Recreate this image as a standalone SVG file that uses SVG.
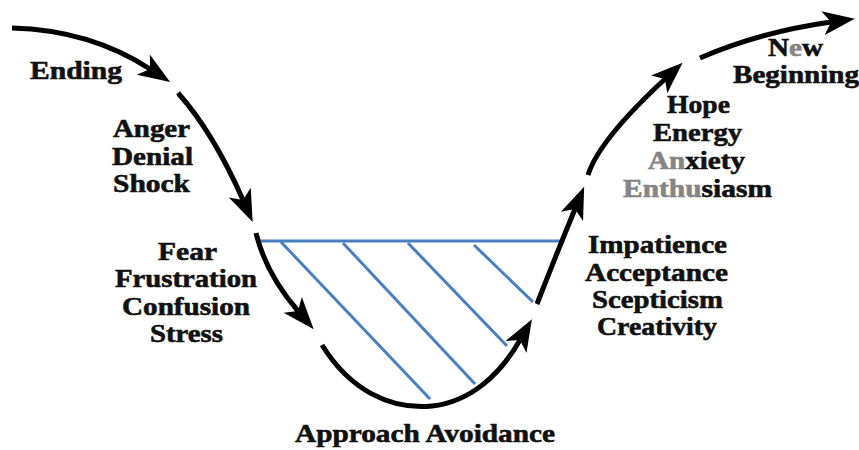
<svg xmlns="http://www.w3.org/2000/svg" width="859" height="450" viewBox="0 0 859 450">
<style>
.lbl{font-family:"Liberation Serif","Times New Roman",serif;font-weight:bold;font-size:25.5px;fill:#111;stroke:#111;stroke-width:0.6;text-anchor:middle}
.fade{fill:#858585;stroke:#858585}
.arr{fill:none;stroke:#000;stroke-width:5;stroke-linecap:butt}
.hatch{stroke:#4a7fc1;stroke-width:3;stroke-linecap:butt;fill:none}
</style>
<defs>
<marker id="ah" markerUnits="userSpaceOnUse" viewBox="0 -15 40 30" markerWidth="40" markerHeight="30" refX="8" refY="0" orient="auto" overflow="visible">
<path d="M32,0 L0,-12 L8,0 L0,12 Z" fill="#000"/>
</marker>
</defs>
<rect width="859" height="450" fill="#fff"/>
<g id="hatching">
<line class="hatch" x1="259" y1="241" x2="563" y2="241"/>
<line class="hatch" x1="281" y1="242" x2="430" y2="399"/>
<line class="hatch" x1="343" y1="243" x2="475" y2="384"/>
<line class="hatch" x1="408" y1="243" x2="507" y2="346"/>
<line class="hatch" x1="474" y1="245" x2="533" y2="302"/>
</g>
<g id="connectors">
<path class="arr" marker-end="url(#ah)" d="M12,28 Q90,30 150,69"/>
<path class="arr" marker-end="url(#ah)" d="M178,93 Q213,132 243,200"/>
<path class="arr" marker-end="url(#ah)" d="M256,233 Q266,274 298,311"/>
<path class="arr" marker-end="url(#ah)" d="M322,345 C350,390 390,410 432,406 C470,402 500,375 520,340"/>
<path class="arr" marker-end="url(#ah)" d="M537,304 Q556,255 575,209"/>
<path class="arr" marker-end="url(#ah)" d="M588,175 Q599,140 665,79"/>
<path class="arr" marker-end="url(#ah)" d="M700,58 Q760,32 831,22"/>
</g>
<g id="ending">
<text class="lbl" x="76" y="79" textLength="92" lengthAdjust="spacingAndGlyphs">Ending</text>
</g>
<g id="anger-denial-shock">
<text class="lbl" x="151.5" y="137" textLength="77" lengthAdjust="spacingAndGlyphs">Anger</text>
<text class="lbl" x="152.5" y="164.5" textLength="81" lengthAdjust="spacingAndGlyphs">Denial</text>
<text class="lbl" x="151.5" y="192" textLength="77" lengthAdjust="spacingAndGlyphs">Shock</text>
</g>
<g id="fear-stress">
<text class="lbl" x="187.5" y="260" textLength="59" lengthAdjust="spacingAndGlyphs">Fear</text>
<text class="lbl" x="186" y="287" textLength="142" lengthAdjust="spacingAndGlyphs">Frustration</text>
<text class="lbl" x="186" y="314.5" textLength="128" lengthAdjust="spacingAndGlyphs">Confusion</text>
<text class="lbl" x="186.5" y="341.5" textLength="73" lengthAdjust="spacingAndGlyphs">Stress</text>
</g>
<g id="approach-avoidance">
<text class="lbl" x="425" y="442" textLength="260" lengthAdjust="spacingAndGlyphs">Approach Avoidance</text>
</g>
<g id="impatience-creativity">
<text class="lbl" x="657.5" y="253" textLength="139" lengthAdjust="spacingAndGlyphs">Impatience</text>
<text class="lbl" x="656.5" y="280.5" textLength="143" lengthAdjust="spacingAndGlyphs">Acceptance</text>
<text class="lbl" x="657.5" y="307.5" textLength="131" lengthAdjust="spacingAndGlyphs">Scepticism</text>
<text class="lbl" x="657" y="334.5" textLength="120" lengthAdjust="spacingAndGlyphs">Creativity</text>
</g>
<g id="hope-enthusiasm">
<text class="lbl" x="698.5" y="113" textLength="63" lengthAdjust="spacingAndGlyphs">Hope</text>
<text class="lbl" x="697.5" y="141" textLength="89" lengthAdjust="spacingAndGlyphs">Energy</text>
<text class="lbl" x="696.5" y="169" textLength="97" lengthAdjust="spacingAndGlyphs"><tspan class="fade">An</tspan>xiety</text>
<text class="lbl" x="697.5" y="197" textLength="149" lengthAdjust="spacingAndGlyphs"><tspan class="fade">Enthu</tspan>siasm</text>
</g>
<g id="new-beginning">
<text class="lbl" x="795.5" y="56" textLength="55" lengthAdjust="spacingAndGlyphs">N<tspan class="fade">e</tspan>w</text>
<text class="lbl" x="796" y="83" textLength="126" lengthAdjust="spacingAndGlyphs">Beginning</text>
</g>
</svg>
